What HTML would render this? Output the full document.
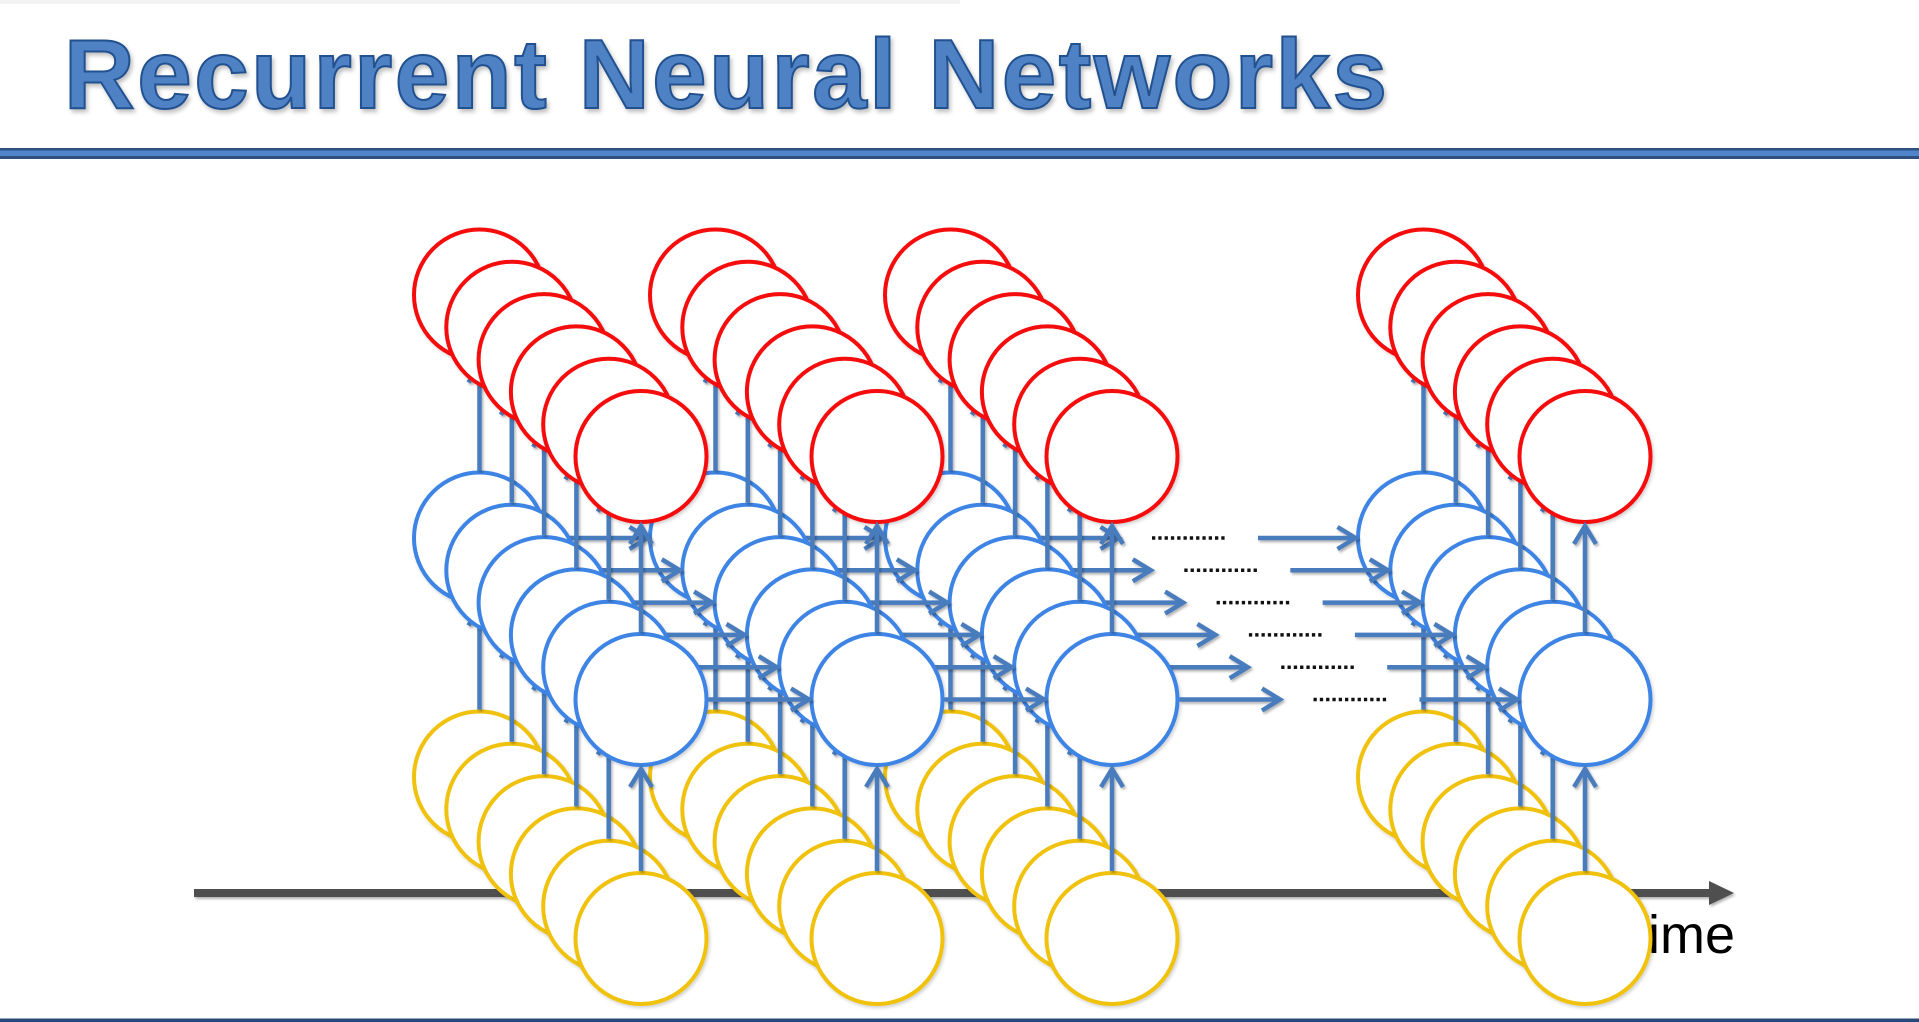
<!DOCTYPE html>
<html>
<head>
<meta charset="utf-8">
<style>
  html, body { margin: 0; padding: 0; background: #ffffff; }
  body { width: 1919px; height: 1022px; overflow: hidden; }
  svg { display: block; }
</style>
</head>
<body>
<svg width="1919" height="1022" viewBox="0 0 1919 1022" xmlns="http://www.w3.org/2000/svg">
  <defs>
    <filter id="tsh" x="-5%" y="-20%" width="110%" height="150%">
      <feDropShadow dx="2" dy="3" stdDeviation="2" flood-color="#000" flood-opacity="0.25"/>
    </filter>
    <filter id="csh" x="-20%" y="-20%" width="140%" height="140%">
      <feDropShadow dx="1.5" dy="2" stdDeviation="1.5" flood-color="#000" flood-opacity="0.18"/>
    </filter>
    <filter id="ash" x="-20%" y="-20%" width="140%" height="140%">
      <feDropShadow dx="1.5" dy="2" stdDeviation="1.2" flood-color="#000" flood-opacity="0.3"/>
    </filter>

    <g id="S">
      <g fill="#ffffff" stroke-width="4" filter="url(#csh)">
        <circle cx="641" cy="938.5" r="65.5" stroke="#f0c20e"/>
        <circle cx="641" cy="699.5" r="65.5" stroke="#3e84e4"/>
        <circle cx="641" cy="456.5" r="65.5" stroke="#f50a0a"/>
        <circle cx="877" cy="938.5" r="65.5" stroke="#f0c20e"/>
        <circle cx="877" cy="699.5" r="65.5" stroke="#3e84e4"/>
        <circle cx="877" cy="456.5" r="65.5" stroke="#f50a0a"/>
        <circle cx="1112" cy="938.5" r="65.5" stroke="#f0c20e"/>
        <circle cx="1112" cy="699.5" r="65.5" stroke="#3e84e4"/>
        <circle cx="1112" cy="456.5" r="65.5" stroke="#f50a0a"/>
        <circle cx="1585" cy="938.5" r="65.5" stroke="#f0c20e"/>
        <circle cx="1585" cy="699.5" r="65.5" stroke="#3e84e4"/>
        <circle cx="1585" cy="456.5" r="65.5" stroke="#f50a0a"/>
      </g>
      <g fill="none" stroke="#4a7bbd" stroke-width="4.5" stroke-linejoin="miter" filter="url(#ash)">
        <path d="M641 871 V770 M630 787 L641 769 L652 787"/>
        <path d="M641 632 V527 M630 544 L641 526 L652 544"/>
        <path d="M877 871 V770 M866 787 L877 769 L888 787"/>
        <path d="M877 632 V527 M866 544 L877 526 L888 544"/>
        <path d="M1112 871 V770 M1101 787 L1112 769 L1123 787"/>
        <path d="M1112 632 V527 M1101 544 L1112 526 L1123 544"/>
        <path d="M1585 871 V770 M1574 787 L1585 769 L1596 787"/>
        <path d="M1585 632 V527 M1574 544 L1585 526 L1596 544"/>
        <path d="M708.5 699.5 H808 M791 688.5 L809 699.5 L791 710.5"/>
        <path d="M944.5 699.5 H1043 M1026 688.5 L1044 699.5 L1026 710.5"/>
        <path d="M1179.5 699.5 H1279 M1262 688.5 L1280 699.5 L1262 710.5"/>
        <path d="M1419.5 699.5 H1516 M1499 688.5 L1517 699.5 L1499 710.5"/>
      </g>
      <line x1="1313.5" y1="699.5" x2="1388.5" y2="699.5" stroke="#111" stroke-width="3.5" stroke-dasharray="3.3 3"/>
    </g>
  </defs>

  <!-- top faint strip -->
  <rect x="0" y="0" width="960" height="4" fill="#f3f3f3"/>

  <!-- Title -->
  <text x="64" y="108" textLength="1323" lengthAdjust="spacing"
        font-family="'Liberation Sans', Arial, sans-serif" font-weight="bold" font-size="98"
        fill="#4f81c5" stroke="#24518f" stroke-width="2" filter="url(#tsh)">Recurrent Neural Networks</text>

  <!-- double rule -->
  <rect x="0" y="148" width="1919" height="11" fill="#2f507f"/>
  <rect x="0" y="150.5" width="1919" height="5.5" fill="#4f84cc"/>

  <!-- time axis -->
  <g filter="url(#ash)">
    <rect x="194" y="889" width="1518" height="8" fill="#505050"/>
    <polygon points="1709,881 1734,893 1709,905" fill="#505050"/>
  </g>
  <text x="1735" y="953" text-anchor="end" font-family="'Liberation Sans', Arial, sans-serif" font-size="54" fill="#000">Time</text>

  <!-- slices back to front -->
  <use href="#S" transform="translate(-161.5,-161.5)"/>
  <use href="#S" transform="translate(-129.2,-129.2)"/>
  <use href="#S" transform="translate(-96.9,-96.9)"/>
  <use href="#S" transform="translate(-64.6,-64.6)"/>
  <use href="#S" transform="translate(-32.3,-32.3)"/>
  <use href="#S"/>

  <!-- bottom rule -->
  <rect x="0" y="1018.5" width="1919" height="3.5" fill="#27487a"/>
</svg>
</body>
</html>
